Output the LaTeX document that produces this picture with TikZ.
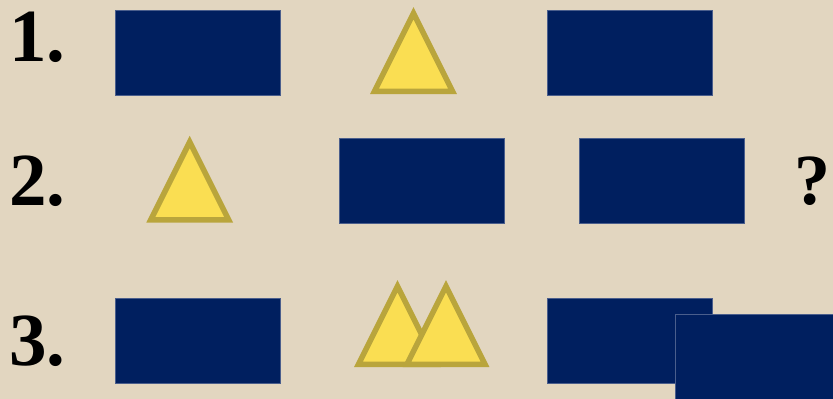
\documentclass[tikz,border=0pt]{standalone}
\usepackage{fontspec}
\setmainfont{Liberation Serif}
\definecolor{bgbeige}{HTML}{E2D6C0}
\definecolor{navyfill}{HTML}{001F5F}
\definecolor{navyedge}{HTML}{4A5E8C}
\definecolor{trifill}{HTML}{FADE52}
\definecolor{triedge}{HTML}{B9A53C}
\tikzset{
  navybox/.style={rectangle, fill=navyfill, draw=navyedge, line width=1pt,
    minimum width=165pt, minimum height=85pt, inner sep=0pt},
  yellowtri/.style={fill=trifill, draw=triedge, line width=5.5pt, line join=miter},
  numlabel/.style={anchor=base west, inner sep=0pt, font=\fontsize{75}{80}\selectfont\bfseries}
}
\newcommand{\drawtri}[3]{% name, center x, outer base y
  \coordinate (#1-l) at ({#2-39},{#3-2.75});
  \coordinate (#1-r) at ({#2+39},{#3-2.75});
  \coordinate (#1-t) at ({#2},{#3-80.75});
  \draw[yellowtri] (#1-l) -- (#1-r) -- (#1-t) -- cycle;
}
\begin{document}
\begin{tikzpicture}[x=1pt,y=-1pt]
\useasboundingbox (0,0) rectangle (833,399);
\clip (0,0) rectangle (833,399);
\fill[bgbeige] (0,0) rectangle (833,399);
% labels
\node[numlabel] (l1) at (9,61) {1.};
\node[numlabel] (l2) at (9,205) {2.};
\node[numlabel] (l3) at (9,365) {3.};
\node[anchor=base west, inner sep=0pt, font=\fontsize{72}{80}\selectfont\bfseries] (q) at (794,204) {?};
% row 1
\node[navybox] (r1a) at (197.7,52.7) {};
\drawtri{t1}{413.5}{94}
\node[navybox] (r1b) at (629.5,52.7) {};
% row 2
\drawtri{t2}{189.7}{222.7}
\node[navybox] (r2a) at (421.8,180.8) {};
\node[navybox] (r2b) at (661.8,180.8) {};
% row 3
\node[navybox] (r3a) at (197.7,340.5) {};
\drawtri{t3a}{397.5}{367}
\drawtri{t3b}{446}{367}
\node[navybox] (r3b) at (630,340.5) {};
\node[navybox] (r3c) at (757.5,356.5) {};
\end{tikzpicture}
\end{document}
